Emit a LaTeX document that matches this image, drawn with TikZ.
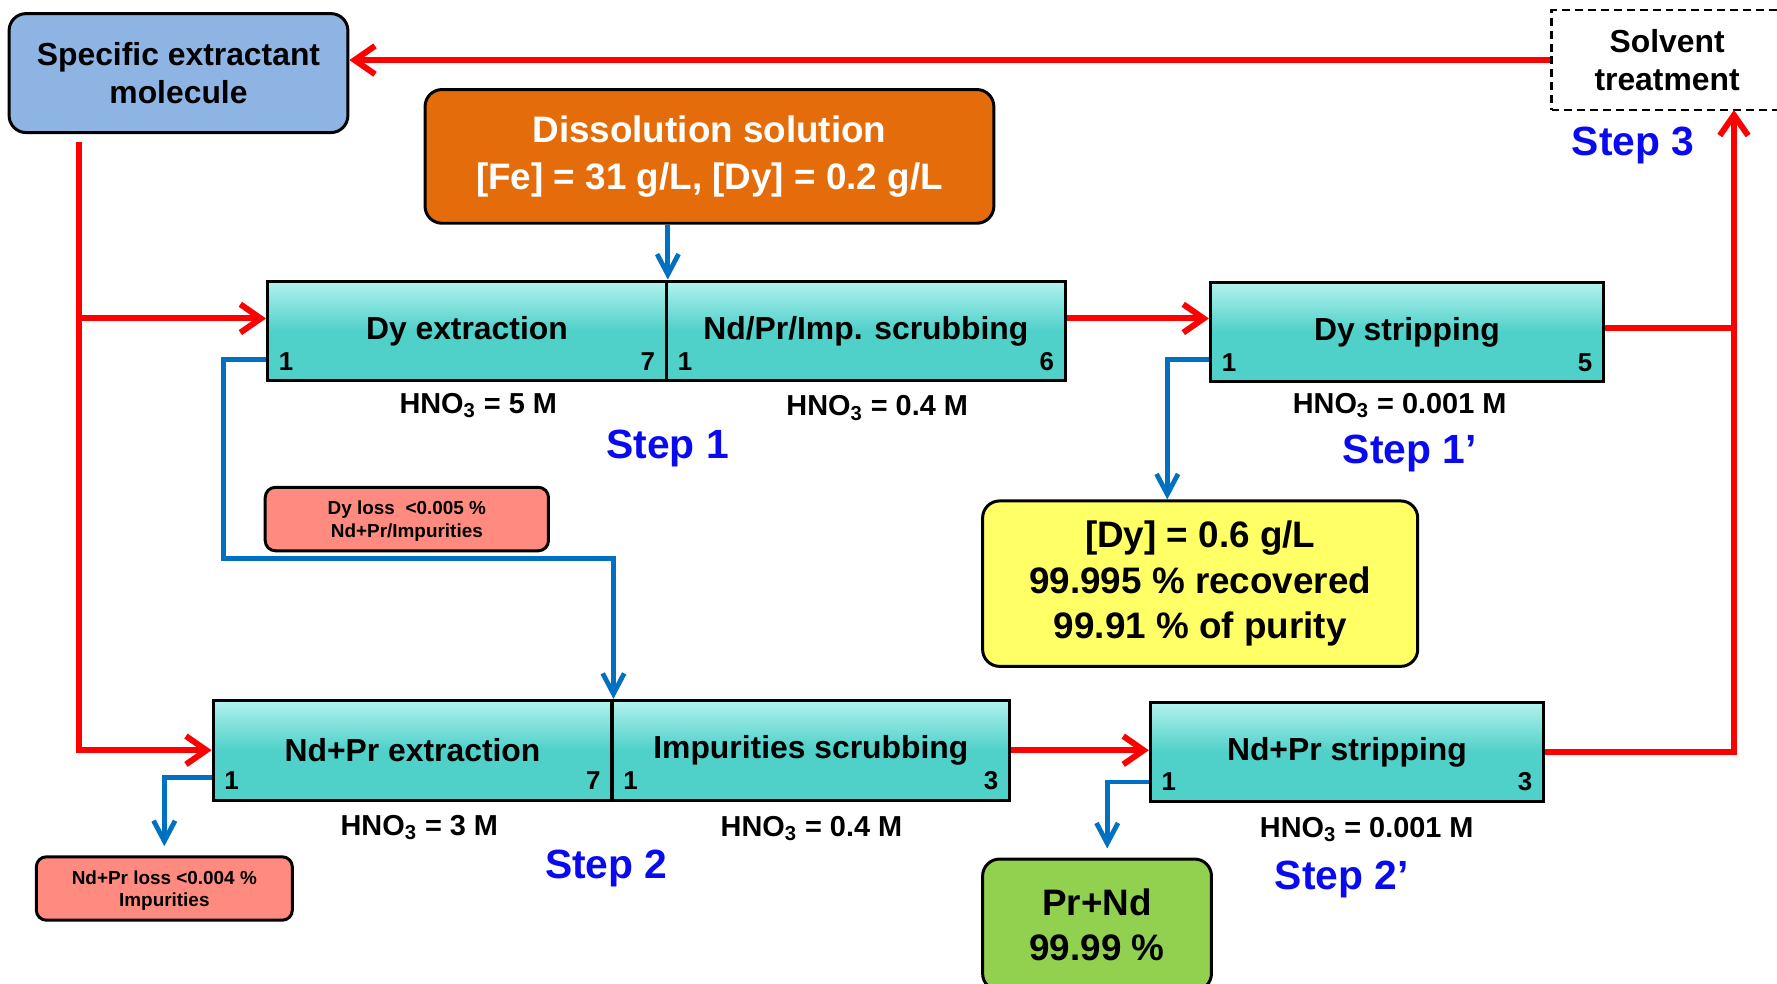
\documentclass[tikz,border=0pt]{standalone}
\usepackage{fontspec}
\setmainfont{Liberation Sans}
\usepackage{xcolor}
\usepackage{tikz}
\usetikzlibrary{positioning, arrows.meta}

\definecolor{molblue}{HTML}{8EB4E3}
\definecolor{dissorange}{HTML}{E46C0A}
\definecolor{tealtop}{HTML}{B2F2EE}
\definecolor{tealbot}{HTML}{4FD0C9}
\definecolor{prodyellow}{HTML}{FFFF66}
\definecolor{losssalmon}{HTML}{FF8B80}
\definecolor{prodgreen}{HTML}{92D050}
\definecolor{flowred}{HTML}{FF0000}
\definecolor{flowblue}{HTML}{0070C0}
\definecolor{stepblue}{HTML}{0A0AF0}

\begin{document}
\begin{tikzpicture}[x=0.02cm, y=-0.02cm, font=\bfseries,
    box/.style={draw, line width=1.5pt, rounded corners=0.3cm, align=center, inner sep=0pt},
    stage/.style={draw, line width=1.5pt, top color=tealtop, bottom color=tealbot, middle color=tealbot,
        minimum height=1.76cm, inner sep=0pt, font=\bfseries\fontsize{16}{19}\selectfont},
    num/.style={inner xsep=0.22cm, inner ysep=0.2cm, font=\bfseries\fontsize{13}{13}\selectfont},
    hno/.style={font=\bfseries\fontsize{14.5}{16}\selectfont},
    steplabel/.style={text=stepblue, font=\bfseries\fontsize{20.5}{22}\selectfont},
    loss/.style={box, fill=losssalmon, rounded corners=0.18cm, minimum height=1.12cm,
        font=\bfseries\fontsize{9.5}{11.4}\selectfont},
    redline/.style={draw=flowred, line width=3pt},
    redarrow/.style={redline, -{Straight Barb[length=0.36cm, width=0.5cm]}},
    bluearrow/.style={draw=flowblue, line width=2.4pt, -{Straight Barb[length=0.36cm, width=0.38cm]}}]

\clip (0,0) rectangle (1568,868);

% Feed and solvent boxes
\node[box, fill=molblue, minimum width=5.98cm, minimum height=2.1cm, font=\bfseries\fontsize{16}{18.8}\selectfont]
    (mol) at (157.5,64.5) {Specific extractant\\molecule};
\node[box, fill=dissorange, text=white, minimum width=10.04cm, minimum height=2.36cm, font=\bfseries\fontsize{18.5}{23.3}\selectfont]
    (diss) at (626,138) {Dissolution solution\\{[Fe]} = 31 g/L, [Dy] = 0.2 g/L};
\node[draw, dashed, line width=1.2pt, dash pattern=on 4pt off 2.5pt, minimum width=4.08cm, minimum height=1.76cm,
    align=center, font=\bfseries\fontsize{16}{19.3}\selectfont]
    (solvent) at (1471,53) {Solvent\\treatment};

% Step 1
\node[stage, minimum width=7.04cm] (dyext) at (412,292) {Dy extraction};
\node[stage, minimum width=7.04cm] (ndscrub) at (764,292) {Nd/Pr/Imp. scrubbing\hspace{0.3cm}};
\node[stage, minimum width=6.94cm] (dystrip) at (1241.5,293) {Dy stripping};

% Step 2
\node[stage, minimum width=7.04cm] (ndext) at (364,662) {Nd+Pr extraction\hspace{0.2cm}};
\node[stage, minimum width=7.02cm] (impscrub) at (715.5,662) {Impurities scrubbing};
\node[stage, minimum width=6.94cm, minimum height=1.74cm] (ndstrip) at (1188.5,663.5) {Nd+Pr stripping};

% Stage numbers
\node[num, anchor=south west] (dyext-a) at (dyext.south west) {1};
\node[num, anchor=south east] (dyext-b) at (dyext.south east) {7};
\node[num, anchor=south west] (ndscrub-a) at (ndscrub.south west) {1};
\node[num, anchor=south east] (ndscrub-b) at (ndscrub.south east) {6};
\node[num, anchor=south west] (dystrip-a) at (dystrip.south west) {1};
\node[num, anchor=south east] (dystrip-b) at (dystrip.south east) {5};
\node[num, anchor=south west] (ndext-a) at (ndext.south west) {1};
\node[num, anchor=south east] (ndext-b) at (ndext.south east) {7};
\node[num, anchor=south west] (impscrub-a) at (impscrub.south west) {1};
\node[num, anchor=south east] (impscrub-b) at (impscrub.south east) {3};
\node[num, anchor=south west] (ndstrip-a) at (ndstrip.south west) {1};
\node[num, anchor=south east] (ndstrip-b) at (ndstrip.south east) {3};

% Products and losses
\node[box, fill=prodyellow, minimum width=7.68cm, minimum height=2.92cm, font=\bfseries\fontsize{18.5}{22.8}\selectfont]
    (dyprod) at (1059,515) {{[Dy]} = 0.6 g/L\\99.995 \% recovered\\99.91 \% of purity};
\node[box, fill=prodgreen, minimum width=4.04cm, minimum height=2.32cm, font=\bfseries\fontsize{18.5}{22.2}\selectfont]
    (prnd) at (968,816) {Pr+Nd\\99.99 \%};
\node[loss, minimum width=5cm, text depth=-0.08cm] (dyloss) at (359,458) {Dy loss~ <0.005 \%\\Nd+Pr/Impurities};
\node[loss, minimum width=4.52cm, text depth=-0.08cm] (ndloss) at (145,784) {Nd+Pr loss <0.004 \%\\Impurities};

% Acidity labels
\node[hno] (hno-dyext) at (422,358) {HNO\textsubscript{3} = 5 M};
\node[hno] (hno-ndscrub) at (774,360) {HNO\textsubscript{3} = 0.4 M};
\node[hno] (hno-dystrip) at (1235,358) {HNO\textsubscript{3} = 0.001 M};
\node[hno] (hno-ndext) at (370,730) {HNO\textsubscript{3} = 3 M};
\node[hno] (hno-impscrub) at (716,731) {HNO\textsubscript{3} = 0.4 M};
\node[hno] (hno-ndstrip) at (1206,732) {HNO\textsubscript{3} = 0.001 M};

% Step labels
\node[steplabel] (step1) at (589,396) {Step 1};
\node[steplabel] (step1p) at (1244,400) {Step 1’};
\node[steplabel] (step2) at (535,766) {Step 2};
\node[steplabel] (step2p) at (1184,776) {Step 2’};
\node[steplabel] (step3) at (1441,128) {Step 3};

% Organic phase (red)
\coordinate (lefttop) at (70,125);
\coordinate (rightup) at (1530,97);
\coordinate (dyin) at ([yshift=0.22cm]dyext.west);
\coordinate (dyout) at ([yshift=0.22cm]ndscrub.east);
\coordinate (dyback) at ([yshift=0.08cm]dystrip.east);
\draw[redarrow] (solvent.west) -- (solvent.west -| mol.east);
\draw[redarrow] (lefttop) |- (ndext.west);
\draw[redarrow] (lefttop |- dyin) -- (dyin);
\draw[redarrow] (dyout) -- (dyout -| dystrip.west);
\draw[redarrow] (impscrub.east) -- (impscrub.east -| ndstrip.west);
\draw[redarrow] (ndstrip.east) -| (rightup);
\draw[redline] (dyback) -- (dyback -| rightup);

% Aqueous phase (blue)
\coordinate (bend) at (197,493);
\draw[bluearrow] (diss.south -| dyext.north east) -- (dyext.north east);
\draw[bluearrow] ([yshift=-0.5cm]dyext.west) -| (bend) -| (ndext.north east);
\draw[bluearrow] ([yshift=-0.48cm]ndext.west) -| ([yshift=0.16cm]ndloss.north);
\draw[bluearrow] ([yshift=-0.48cm]dystrip.west) -| ([xshift=-0.58cm]dyprod.north);
\draw[bluearrow] ([yshift=-0.53cm]ndstrip.west) -| ([xshift=0.18cm, yshift=0.16cm]prnd.north);

\end{tikzpicture}
\end{document}
